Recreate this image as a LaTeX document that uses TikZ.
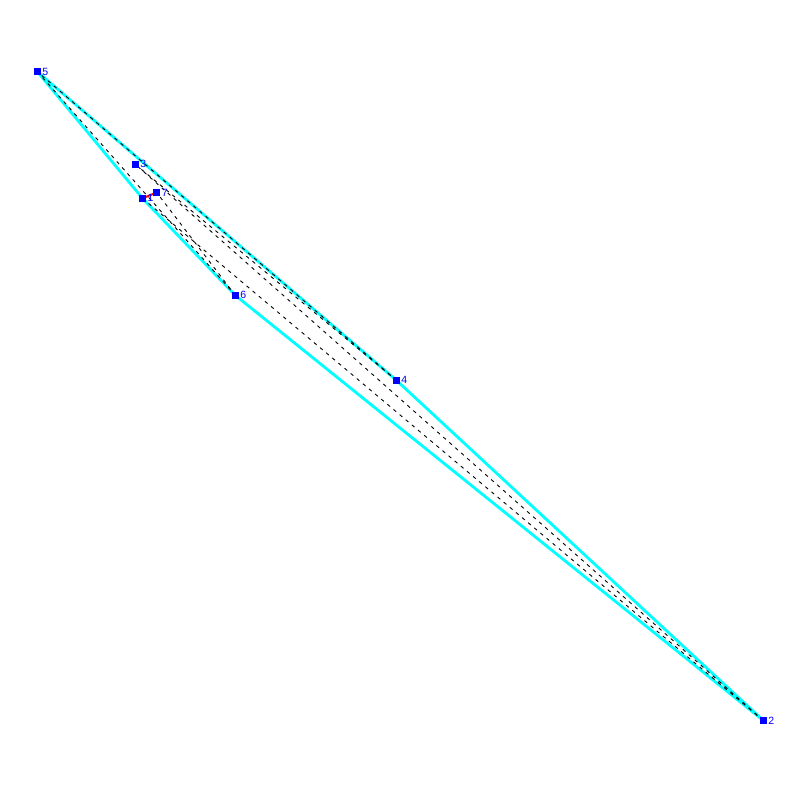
\documentclass[tikz,border=0pt]{standalone}
\usepackage{fontspec}
\setmainfont{Liberation Sans}
\definecolor{hullcyan}{RGB}{0,255,255}
\definecolor{ptblue}{RGB}{0,0,255}
\definecolor{edgered}{RGB}{255,0,0}
\begin{document}
\begin{tikzpicture}[x=1pt,y=-1pt,
  dashedge/.style={black,line width=0.9pt,dash pattern=on 3.5pt off 4.5pt},
  hulledge/.style={hullcyan,line width=2.8pt,line join=round,line cap=round},
  closeedge/.style={edgered,line width=2pt},
  ptbox/.style={rectangle,fill=ptblue,draw=none,minimum size=7pt,inner sep=0pt,
    label={[labstyle]0:#1}},
  labstyle/.style={text=ptblue,inner sep=0pt,font=\fontsize{10.5}{12}\selectfont,label distance=1.2pt}]
\useasboundingbox (0,0) rectangle (800,800);
\fill[white] (0,0) rectangle (800,800);
\coordinate (c1) at (142.5,198.3);
\coordinate (c2) at (763.3,720.5);
\coordinate (c3) at (135.3,164.3);
\coordinate (c4) at (396.3,380.2);
\coordinate (c5) at (37.3,71.6);
\coordinate (c6) at (235.3,295.3);
\coordinate (c7) at (156.7,192.5);
\draw[hulledge] (c5) -- (c4) -- (c2) -- (c6) -- (c1) -- cycle;
\foreach \a/\b in {1/2,2/3,3/4,4/5,5/6,6/7}
  \draw[dashedge] (c\a) -- (c\b);
\draw[closeedge] (c7) -- (c1);
\node[ptbox=1] (p1) at (c1) {};
\node[ptbox=2] (p2) at (c2) {};
\node[ptbox=3] (p3) at (c3) {};
\node[ptbox=4] (p4) at (c4) {};
\node[ptbox=5] (p5) at (c5) {};
\node[ptbox=6] (p6) at (c6) {};
\node[ptbox=7] (p7) at (c7) {};
\end{tikzpicture}
\end{document}
